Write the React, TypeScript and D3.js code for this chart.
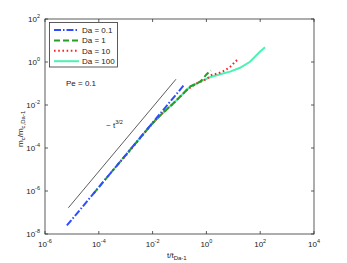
import React from "react";
import * as d3 from "d3";

const W = 347;
const H = 263;

// Series data (t / t_Da-1, m_c / m_c,Da-1)
const blueT = [6.5e-6, 1e-5, 1e-4, 1e-3, 1e-2, 5e-2, 0.15];
const blueM = [2.5e-8, 4.7e-8, 1.5e-6, 4.7e-5, 1.5e-3, 1.68e-2, 8.8e-2];

const greenT = [6.3e-5, 1e-4, 1e-3, 1e-2, 0.019, 0.068, 0.105, 0.245, 0.4, 0.56, 0.68, 1.02, 1.48];
const greenM = [7.5e-7, 1.5e-6, 4.7e-5, 1.45e-3, 3.2e-3, 0.0141, 0.0245, 0.071, 0.095, 0.118, 0.145, 0.27, 0.4];

const redT = [5e-4, 1e-3, 1e-2, 0.019, 0.068, 0.186, 0.4, 1.0, 1.58, 2.75, 4.27, 5.6, 8.7, 11.5, 15.5];
const redM = [1.68e-5, 4.4e-5, 1.4e-3, 3.2e-3, 0.0141, 0.05, 0.095, 0.16, 0.25, 0.295, 0.38, 0.457, 0.676, 1.02, 1.38];

const cyanT = [1.58e-3, 5.25e-3, 0.019, 0.068, 0.105, 0.186, 0.245, 0.4, 0.575, 1.35, 3.24, 7.6, 17.8, 41.7, 97.7, 151];
const cyanM = [9.3e-5, 5.6e-4, 3.3e-3, 0.0141, 0.0245, 0.05, 0.071, 0.095, 0.12, 0.195, 0.27, 0.355, 0.54, 1.02, 3.0, 4.8];

const refT = [7.4e-6, 0.074];
const refM = [1.66e-7, 0.158];

const seriesNames = ["Da = 0.1", "Da = 1", "Da = 10", "Da = 100"];
const seriesColors = ["#2f4dff", "#25a025", "#ff2020", "#4cf2b4"];
const seriesDash = ["7,2,1.5,2", "6,3", "1.6,2.6", ""];

const xTicks = [1e-6, 1e-4, 1e-2, 1, 1e2, 1e4];
const xTickExp = ["-6", "-4", "-2", "0", "2", "4"];
const yTicks = [1e-8, 1e-6, 1e-4, 1e-2, 1, 1e2];
const yTickExp = ["-8", "-6", "-4", "-2", "0", "2"];

const L = 45, R = 314, T = 19, B = 234;

export default function App() {
  const x = d3.scaleLog().domain([1e-6, 1e4]).range([L, R]);
  const y = d3.scaleLog().domain([1e-8, 1e2]).range([B, T]);
  const line = d3
    .line<[number, number]>()
    .x((d) => x(d[0]))
    .y((d) => y(d[1]));

  const series = [
    blueT.map((t, i) => [t, blueM[i]] as [number, number]),
    greenT.map((t, i) => [t, greenM[i]] as [number, number]),
    redT.map((t, i) => [t, redM[i]] as [number, number]),
    cyanT.map((t, i) => [t, cyanM[i]] as [number, number]),
  ];
  const refData = refT.map((t, i) => [t, refM[i]] as [number, number]);
  const font = "Liberation Sans, Arial, sans-serif";
  const axisColor = "#333";

  return (
    <svg
      width={W}
      height={H}
      style={{ position: "absolute", left: 0, top: 0, background: "#fff" }}
      fontFamily={font}
    >
      <rect x={0} y={0} width={W} height={H} fill="#fff" />
      <defs>
        <clipPath id="plotclip">
          <rect x={L} y={T} width={R - L} height={B - T} />
        </clipPath>
      </defs>
      <g clipPath="url(#plotclip)">
        <path d={line(refData) || ""} stroke="#333" strokeWidth={0.8} fill="none" />
        {[3, 2, 1, 0].map((i) => (
          <path
            key={i}
            d={line(series[i]) || ""}
            stroke={seriesColors[i]}
            strokeWidth={2}
            strokeDasharray={seriesDash[i] || undefined}
            fill="none"
          />
        ))}
      </g>
      <rect x={L} y={T} width={R - L} height={B - T} fill="none" stroke={axisColor} strokeWidth={0.8} />
      {xTicks.map((t, i) => (
        <g key={"xt" + i}>
          <line x1={x(t)} x2={x(t)} y1={B} y2={B - 3} stroke={axisColor} strokeWidth={0.8} />
          <line x1={x(t)} x2={x(t)} y1={T} y2={T + 3} stroke={axisColor} strokeWidth={0.8} />
          <text x={x(t)} y={247} fontSize={8} fill="#222" textAnchor="middle">
            10
            <tspan dy={-4} fontSize={5.5}>{xTickExp[i]}</tspan>
          </text>
        </g>
      ))}
      {yTicks.map((t, i) => (
        <g key={"yt" + i}>
          <line x1={L} x2={L + 3} y1={y(t)} y2={y(t)} stroke={axisColor} strokeWidth={0.8} />
          <line x1={R} x2={R - 3} y1={y(t)} y2={y(t)} stroke={axisColor} strokeWidth={0.8} />
          <text x={40} y={y(t) + 3} fontSize={8} fill="#222" textAnchor="end">
            10
            <tspan dy={-4} fontSize={5.5}>{yTickExp[i]}</tspan>
          </text>
        </g>
      ))}
      <text x={167} y={258} fontSize={8} fill="#222">
        t/t
        <tspan dy={2} fontSize={6}>Da-1</tspan>
      </text>
      <text transform="translate(23,147) rotate(-90)" fontSize={8} fill="#222">
        m
        <tspan dy={2} fontSize={6}>c</tspan>
        <tspan dy={-2}>/m</tspan>
        <tspan dy={2} fontSize={6}>c,Da-1</tspan>
      </text>
      <text x={66} y={86} fontSize={8} fill="#222">Pe = 0.1</text>
      <text x={106} y={128} fontSize={8} fill="#222">
        ~ t
        <tspan dy={-4} fontSize={5.5}>3/2</tspan>
      </text>
      <rect x={49.5} y={22.5} width={68} height={44.5} fill="#fff" stroke={axisColor} strokeWidth={0.8} />
      {seriesNames.map((n, i) => {
        const ly = 30 + i * 10.4;
        return (
          <g key={"lg" + i}>
            <line
              x1={54}
              x2={79}
              y1={ly}
              y2={ly}
              stroke={seriesColors[i]}
              strokeWidth={2}
              strokeDasharray={seriesDash[i] || undefined}
            />
            <text x={82} y={ly + 3} fontSize={8} fill="#222">{n}</text>
          </g>
        );
      })}
    </svg>
  );
}
